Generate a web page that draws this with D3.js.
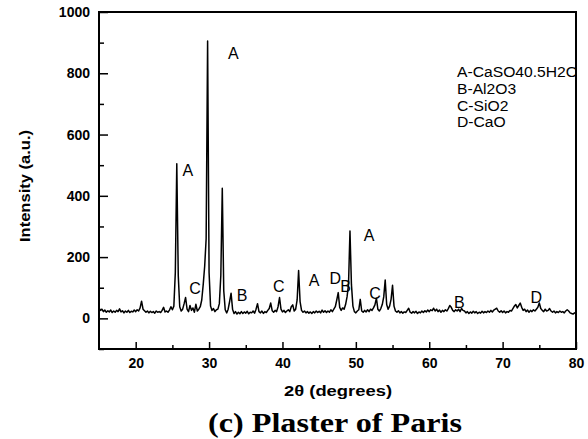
<!DOCTYPE html>
<html>
<head>
<meta charset="utf-8">
<script src="https://cdn.jsdelivr.net/npm/d3@7/dist/d3.min.js"></script>
<style>
	body { margin: 0; background: #fff; }
	svg { display: block; }
	.tick text { font-family: "Liberation Sans", Arial, sans-serif; font-weight: bold; font-size: 14px; }
</style>
</head>
<body>
<div id="graph"></div>
<script>
// XRD pattern, intensity read every 0.2 degrees (2theta from 15.0 to 80.0)
var thetaStart = 15.0;
var thetaStep = 0.2;

var int15 = [34,26,30,22,27,20,25,21,27,19,24,20,26,22,31,21,25,18,24,20,26,19,23,21,27];
var int20 = [22,28,24,34,56,30,25,20,24,18,23,19,22,17,24,20,22,19,26,36,21,24,20,27,38];
var int25 = [28,40,150,505,140,38,24,30,48,68,30,22,42,26,34,20,46,24,30,38,60,110,170,260,905];
var int30 = [150,40,26,32,22,28,30,48,140,425,90,28,18,30,55,82,30,16,22,14,20,15,22,16,21];
var int35 = [17,23,15,20,18,24,17,30,48,22,18,24,16,22,19,26,32,50,25,20,26,22,38,68,30];
var int40 = [21,26,19,24,28,22,38,44,24,30,60,156,55,26,20,24,18,22,17,21,16,22,18,24,19];
var int45 = [23,18,27,20,25,19,24,20,28,22,30,38,60,84,36,26,34,30,45,70,110,285,110,40,22];
var int50 = [18,24,28,62,24,20,26,21,28,22,30,26,34,44,66,30,24,32,45,70,125,45,30,40,62];
var int55 = [108,40,24,20,25,18,22,17,21,19,26,33,20,17,22,18,23,16,21,18,24,19,25,21,27];
var int60 = [22,28,25,33,24,30,22,27,20,26,22,28,24,32,42,36,26,22,28,24,30,22,32,26,24];
var int65 = [18,22,16,21,17,23,18,22,16,20,17,23,18,22,19,24,20,26,21,27,30,33,24,20,25];
var int70 = [19,24,18,22,20,26,24,32,40,45,34,42,50,36,26,30,22,27,20,26,22,28,24,30,36];
var int75 = [50,32,26,22,30,24,26,32,24,20,24,18,22,19,24,20,22,18,24,28,24,18,16,14,18,16];

var xTicks = [20, 30, 40, 50, 60, 70, 80];
var xMinorTicks = [25, 35, 45, 55, 65, 75];
var yTicks = [0, 200, 400, 600, 800, 1000];
var yMinorTicks = [-100, 100, 300, 500, 700, 900];

// phase labels on the peaks
var peakLetters = ["A", "A", "C", "B", "C", "A", "D", "B", "A", "C", "B", "D"];
var peakTheta   = [27.1, 33.3, 28.1, 34.5, 39.5, 44.3, 47.2, 48.6, 51.8, 52.6, 64.1, 74.6];
var peakInt     = [484, 866, 99, 76, 106, 125, 132, 104, 272, 83, 52, 70];

var legendLines = ["A-CaSO40.5H2O", "B-Al2O3", "C-SiO2", "D-CaO"];

var intensity = [].concat(int15, int20, int25, int30, int35, int40, int45, int50, int55, int60, int65, int70, int75);
var data = intensity.map(function (v, i) {
	return { t: thetaStart + i * thetaStep, v: v };
});

var w = 588, h = 439;
var padL = 99, padR = 576, padT = 12, padB = 349;

var xScale = d3.scaleLinear().domain([15, 80]).range([padL, padR]);
var yScale = d3.scaleLinear().domain([-100, 1000]).range([padB, padT]);

var svg = d3.select("#graph")
	.append("svg")
	.attr("width", w)
	.attr("height", h);

svg.append("defs").append("clipPath")
	.attr("id", "plotClip")
	.append("rect")
	.attr("x", padL)
	.attr("y", padT)
	.attr("width", padR - padL)
	.attr("height", padB - padT);

// pattern line
var line = d3.line()
	.x(function (d) { return xScale(d.t); })
	.y(function (d) { return yScale(d.v); });

svg.append("path")
	.datum(data)
	.attr("clip-path", "url(#plotClip)")
	.attr("fill", "none")
	.attr("stroke", "#000")
	.attr("stroke-width", 1.5)
	.attr("stroke-linejoin", "round")
	.attr("d", line);

// axes, ticks pointing inwards
svg.append("g")
	.attr("transform", "translate(0," + padB + ")")
	.call(d3.axisBottom(xScale).tickValues(xTicks).tickSize(-7).tickPadding(9).tickFormat(d3.format("d")));
svg.append("g")
	.attr("transform", "translate(0," + padB + ")")
	.call(d3.axisBottom(xScale).tickValues(xMinorTicks).tickSize(-4).tickFormat(""));

svg.append("g")
	.attr("transform", "translate(" + padL + ",0)")
	.call(d3.axisLeft(yScale).tickValues(yTicks).tickSize(-9).tickPadding(9).tickFormat(d3.format("d")));
svg.append("g")
	.attr("transform", "translate(" + padL + ",0)")
	.call(d3.axisLeft(yScale).tickValues(yMinorTicks).tickSize(-5).tickFormat(""));

svg.selectAll(".domain").remove();
svg.selectAll(".tick line").attr("stroke", "#000").attr("stroke-width", 1.5);
svg.selectAll(".tick text").attr("fill", "#000");

// frame
svg.append("rect")
	.attr("x", padL)
	.attr("y", padT)
	.attr("width", padR - padL)
	.attr("height", padB - padT)
	.attr("fill", "none")
	.attr("stroke", "#000")
	.attr("stroke-width", 2);

// peak labels
var labels = svg.append("g")
	.attr("font-family", "Liberation Sans, Arial, sans-serif")
	.attr("font-size", 16)
	.attr("text-anchor", "middle");
labels.selectAll("text")
	.data(peakLetters)
	.enter()
	.append("text")
	.attr("x", function (d, i) { return xScale(peakTheta[i]); })
	.attr("y", function (d, i) { return yScale(peakInt[i]); })
	.attr("dy", "0.36em")
	.text(function (d) { return d; });

// legend (cut by the right frame like the original)
svg.append("g")
	.attr("clip-path", "url(#plotClip)")
	.append("g")
	.attr("transform", "translate(457,0) scale(1.045,1)")
	.selectAll("text")
	.data(legendLines)
	.enter()
	.append("text")
	.attr("x", 0)
	.attr("y", function (d, i) { return 77 + i * 16.8; })
	.attr("font-family", "Liberation Sans, Arial, sans-serif")
	.attr("font-size", 15)
	.text(function (d) { return d; });

// axis titles
svg.append("text")
	.attr("transform", "translate(30,186) rotate(-90)")
	.attr("text-anchor", "middle")
	.attr("font-family", "Liberation Sans, Arial, sans-serif")
	.attr("font-weight", "bold")
	.attr("font-size", 14)
	.attr("textLength", 112)
	.attr("lengthAdjust", "spacingAndGlyphs")
	.text("Intensity (a.u.)");

svg.append("text")
	.attr("x", 338)
	.attr("y", 396)
	.attr("text-anchor", "middle")
	.attr("font-family", "Liberation Sans, Arial, sans-serif")
	.attr("font-weight", "bold")
	.attr("font-size", 15)
	.attr("textLength", 108)
	.attr("lengthAdjust", "spacingAndGlyphs")
	.text("2θ (degrees)");

svg.append("text")
	.attr("x", 335)
	.attr("y", 432)
	.attr("text-anchor", "middle")
	.attr("font-family", "Liberation Serif, Times New Roman, serif")
	.attr("font-weight", "bold")
	.attr("font-size", 27)
	.attr("textLength", 254)
	.attr("lengthAdjust", "spacingAndGlyphs")
	.text("(c) Plaster of Paris");
</script>
</body>
</html>
